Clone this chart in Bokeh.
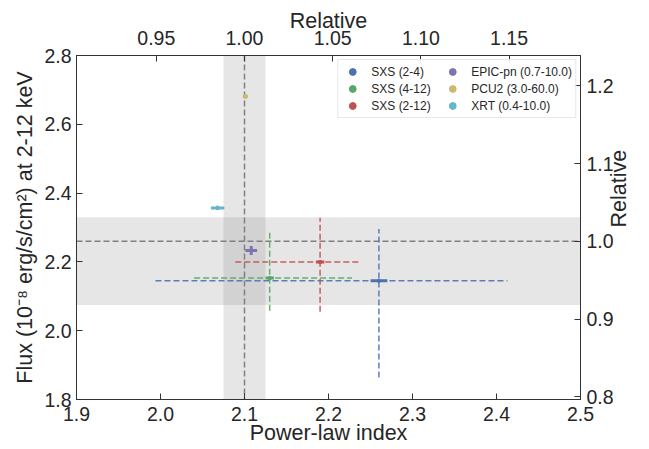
import math
from bokeh.plotting import figure
from bokeh.models import (Range1d, LinearAxis, FixedTicker, NumeralTickFormatter,
                          Legend, LegendItem, BoxAnnotation, Span)
from bokeh.embed import file_html
from bokeh.resources import INLINE

# ---- data ----
labels = ["SXS (2-4)", "SXS (4-12)", "SXS (2-12)",
          "EPIC-pn (0.7-10.0)", "PCU2 (3.0-60.0)", "XRT (0.4-10.0)"]
colors = ["#4C72B0", "#55A868", "#C44E52", "#8172B2", "#CCB974", "#64B5CD"]
index = [2.260, 2.130, 2.190, 2.108, 2.101, 2.068]
flux = [2.145, 2.153, 2.200, 2.233, 2.681, 2.357]
index_stat = [0.010, 0.005, 0.005, 0.007, 0.003, 0.008]
flux_stat = [0.004, 0.005, 0.005, 0.013, 0.007, 0.006]

# systematic ranges (SXS only)
sys_index_lo = [1.994, 2.040, 2.089]
sys_index_hi = [2.413, 2.228, 2.236]
sys_flux_lo = [1.864, 2.058, 2.055]
sys_flux_hi = [2.296, 2.287, 2.328]

ref_index = 2.1
ref_index_band = [2.075, 2.125]
ref_flux = 2.26
ref_flux_band = [2.075, 2.330]

x_ticks = [1.9, 2.0, 2.1, 2.2, 2.3, 2.4, 2.5]
y_ticks = [1.8, 2.0, 2.2, 2.4, 2.6, 2.8]
top_ticks = [0.95, 1.00, 1.05, 1.10, 1.15]
right_ticks = [0.8, 0.9, 1.0, 1.1, 1.2]

FONT = "Liberation Sans"
TXT = "#262626"

p = figure(width=645, height=447, x_range=Range1d(1.9, 2.5), y_range=Range1d(1.8, 2.8),
           output_backend="svg", toolbar_location=None,
           min_border_left=76, min_border_right=64, min_border_top=55, min_border_bottom=47)
p.xgrid.visible = False
p.ygrid.visible = False
p.outline_line_color = "#333333"
p.background_fill_color = "white"

p.extra_x_ranges = {"rel": Range1d(1.9 / ref_index, 2.5 / ref_index)}
p.extra_y_ranges = {"rel": Range1d(1.8 / ref_flux, 2.8 / ref_flux)}

# bands and reference lines
p.add_layout(BoxAnnotation(left=ref_index_band[0], right=ref_index_band[1],
                           fill_color="gray", fill_alpha=0.2, line_color=None, level="underlay"))
p.add_layout(BoxAnnotation(bottom=ref_flux_band[0], top=ref_flux_band[1],
                           fill_color="gray", fill_alpha=0.2, line_color=None, level="underlay"))
p.add_layout(Span(location=ref_index, dimension="height", line_color="gray",
                  line_dash="6 3", line_width=1.5, level="underlay"))
p.add_layout(Span(location=ref_flux, dimension="width", line_color="gray",
                  line_dash="6 3", line_width=1.5, level="underlay"))

# systematic error bars (dashed)
n = len(sys_index_lo)
p.segment(x0=sys_index_lo, y0=flux[:n], x1=sys_index_hi, y1=flux[:n],
          line_color=colors[:n], line_dash="6 3", line_width=1.5, line_alpha=0.9)
p.segment(x0=index[:n], y0=sys_flux_lo, x1=index[:n], y1=sys_flux_hi,
          line_color=colors[:n], line_dash="6 3", line_width=1.5, line_alpha=0.9)

# statistical error bars (solid)
p.segment(x0=[a - e for a, e in zip(index, index_stat)], y0=flux,
          x1=[a + e for a, e in zip(index, index_stat)], y1=flux,
          line_color=colors, line_width=3)
p.segment(x0=index, y0=[b - e for b, e in zip(flux, flux_stat)],
          x1=index, y1=[b + e for b, e in zip(flux, flux_stat)],
          line_color=colors, line_width=3)

items = []
for i, lab in enumerate(labels):
    r = p.scatter([index[i]], [flux[i]], size=3, color=colors[i])
    items.append(LegendItem(label=lab, renderers=[r]))

legend = Legend(items=items, location="top_right", ncols=2)
legend.margin = 4
legend.padding = 3
legend.spacing = 0
legend.glyph_width = 22
legend.glyph_height = 17
legend.label_standoff = 8
legend.label_height = 17
legend.label_width = 70
legend.label_text_font = FONT
legend.label_text_font_size = "12px"
legend.label_text_color = TXT
legend.border_line_color = "#d0d0d0"
legend.background_fill_alpha = 0.85
p.add_layout(legend)

# axes
def style(ax, ticks, fmt, tick_std, label_std):
    ax.ticker = FixedTicker(ticks=ticks)
    ax.formatter = NumeralTickFormatter(format=fmt)
    ax.major_tick_in = 6
    ax.major_tick_out = 0
    ax.minor_tick_line_color = None
    ax.major_tick_line_color = "#333333"
    ax.axis_line_color = "#333333"
    ax.major_label_text_font = FONT
    ax.major_label_text_font_size = "19.5px"
    ax.major_label_text_color = TXT
    ax.axis_label_text_font = FONT
    ax.axis_label_text_font_size = "21.5px"
    ax.axis_label_text_font_style = "normal"
    ax.axis_label_text_color = TXT
    ax.major_label_standoff = tick_std
    ax.axis_label_standoff = label_std

style(p.xaxis[0], x_ticks, "0.0", 7, -3)
p.xaxis[0].axis_label = "Power-law index"
style(p.yaxis[0], y_ticks, "0.0", 5, 4)
p.yaxis[0].axis_label = "Flux (10\u207b\u2078 erg/s/cm\u00b2) at 2-12 keV"

top = LinearAxis(x_range_name="rel", axis_label="Relative")
style(top, top_ticks, "0.00", 11, -5)
p.add_layout(top, "above")

right = LinearAxis(y_range_name="rel", axis_label="Relative")
style(right, right_ticks, "0.0", 6, 2)
if "axis_label_orientation" in right.properties():
    right.axis_label_orientation = math.pi / 2
p.add_layout(right, "right")

open("out.html", "w").write(file_html(p, INLINE))
